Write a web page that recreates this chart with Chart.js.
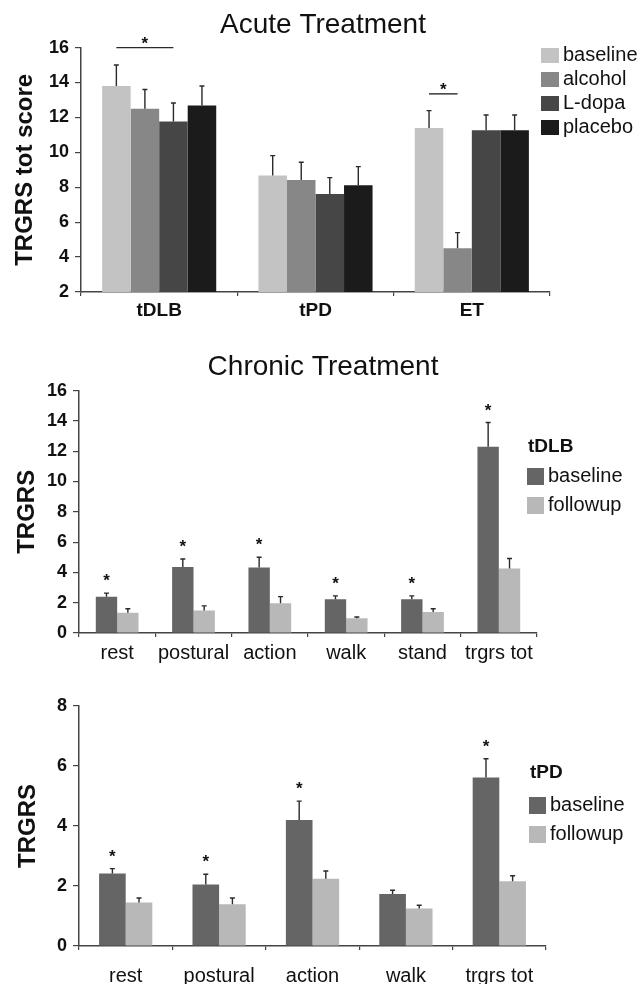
<!DOCTYPE html>
<html>
<head>
<meta charset="utf-8">
<script src="https://cdn.jsdelivr.net/npm/chart.js@4.4.1/dist/chart.umd.min.js"></script>
<style>
  body { margin: 0; background: #fff; width: 640px; height: 984px; overflow: hidden; position: relative; }
  .panel { position: absolute; left: 0; width: 640px; }
</style>
</head>
<body>
<div class="panel" style="top:0;height:320px"><canvas id="acute"></canvas></div>
<div class="panel" style="top:320px;height:345px"><canvas id="chronicDLB"></canvas></div>
<div class="panel" style="top:655px;height:329px"><canvas id="chronicPD"></canvas></div>
<script>
// acute treatment, TRGRS tot score (mean + SEM)
const acuteGroups = ['tDLB', 'tPD', 'ET'];
const acuteBaseline = [13.8, 8.67, 11.4];
const acuteBaselineErr = [1.2, 1.14, 0.99];
const acuteAlcohol = [12.5, 8.42, 4.5];
const acuteAlcoholErr = [1.1, 1.01, 0.9];
const acuteLdopa = [11.76, 7.62, 11.27];
const acuteLdopaErr = [1.07, 0.93, 0.87];
const acutePlacebo = [12.68, 8.11, 11.27];
const acutePlaceboErr = [1.12, 1.07, 0.87];
const acuteYTicks = [2, 4, 6, 8, 10, 12, 14, 16];
// significance brackets: group, from series, to series, height
const acuteBrackets = [[0, 0, 2, 16], [2, 0, 1, 13.35]];

// chronic treatment, tDLB
const dlbItems = ['rest', 'postural', 'action', 'walk', 'stand', 'trgrs tot'];
const dlbBaseline = [2.4, 4.35, 4.33, 2.23, 2.23, 12.3];
const dlbBaselineErr = [0.23, 0.53, 0.67, 0.22, 0.22, 1.59];
const dlbFollowup = [1.34, 1.48, 1.97, 0.97, 1.39, 4.26];
const dlbFollowupErr = [0.26, 0.31, 0.43, 0.09, 0.21, 0.66];
const dlbStars = [1, 1, 1, 1, 1, 1];
const dlbYTicks = [0, 2, 4, 6, 8, 10, 12, 14, 16];

// chronic treatment, tPD
const pdItems = ['rest', 'postural', 'action', 'walk', 'trgrs tot'];
const pdBaseline = [2.42, 2.05, 4.2, 1.73, 5.62];
const pdBaselineErr = [0.16, 0.34, 0.63, 0.13, 0.62];
const pdFollowup = [1.45, 1.39, 2.24, 1.25, 2.16];
const pdFollowupErr = [0.15, 0.21, 0.26, 0.11, 0.18];
const pdStars = [1, 1, 1, 0, 1];
const pdYTicks = [0, 2, 4, 6, 8];

const FONT = '"Liberation Sans", Arial, sans-serif';
Chart.defaults.font.family = FONT;
Chart.defaults.color = '#111';

// error whiskers, stars, brackets and the legend box
const marks = {
  id: 'marks',
  afterDatasetsDraw(chart, args, o) {
    const ctx = chart.ctx, y = chart.scales.y;
    ctx.save();
    ctx.strokeStyle = '#2a2a2a';
    ctx.lineWidth = 1.4;
    chart.data.datasets.forEach((ds, i) => {
      chart.getDatasetMeta(i).data.forEach((bar, j) => {
        const top = y.getPixelForValue(ds.data[j] + ds.err[j]);
        ctx.beginPath();
        ctx.moveTo(bar.x, bar.y);
        ctx.lineTo(bar.x, top);
        ctx.moveTo(bar.x - 2.5, top);
        ctx.lineTo(bar.x + 2.5, top);
        ctx.stroke();
      });
    });
    ctx.fillStyle = '#111';
    ctx.font = 'bold 17px ' + FONT;
    ctx.textAlign = 'center';
    ctx.textBaseline = 'alphabetic';
    (o.stars || []).forEach((s, j) => {
      if (!s) return;
      const ds = chart.data.datasets[0];
      const bar = chart.getDatasetMeta(0).data[j];
      const top = y.getPixelForValue(ds.data[j] + ds.err[j]);
      ctx.fillText('*', bar.x, top - 7);
    });
    (o.brackets || []).forEach(([g, a, b, v]) => {
      const x1 = chart.getDatasetMeta(a).data[g].x;
      const x2 = chart.getDatasetMeta(b).data[g].x;
      const py = y.getPixelForValue(v);
      ctx.beginPath();
      ctx.moveTo(x1, py);
      ctx.lineTo(x2, py);
      ctx.stroke();
      ctx.fillText('*', (x1 + x2) / 2, py + 1);
    });
    ctx.restore();
  },
  afterDraw(chart, args, o) {
    const L = o.legend;
    if (!L) return;
    const ctx = chart.ctx;
    ctx.save();
    ctx.textBaseline = 'middle';
    ctx.textAlign = 'left';
    let top = L.y;
    if (L.title) {
      ctx.fillStyle = '#111';
      ctx.font = 'bold 19px ' + FONT;
      ctx.fillText(L.title, L.x + 1, L.titleY);
    }
    chart.data.datasets.forEach((ds) => {
      ctx.fillStyle = ds.backgroundColor;
      ctx.fillRect(L.x, top, L.w, L.h);
      ctx.fillStyle = '#111';
      ctx.font = '20px ' + FONT;
      ctx.fillText(ds.label, L.x + L.w + 4, top + L.h / 2);
      top += L.gap;
    });
    ctx.restore();
  }
};

function makeChart(id, cfg) {
  return new Chart(document.getElementById(id), {
    type: 'bar',
    data: { labels: cfg.labels, datasets: cfg.datasets },
    options: {
      responsive: true, maintainAspectRatio: false, animation: false, events: [],
      layout: { padding: { top: cfg.padTop, right: 0, left: 6, bottom: 0 } },
      datasets: { bar: { categoryPercentage: cfg.catPct, barPercentage: 1, borderWidth: 0 } },
      plugins: {
        legend: { display: false },
        tooltip: { enabled: false },
        title: cfg.title ? {
          display: true, text: cfg.title, color: '#111',
          font: { size: 28, weight: 'normal' }, padding: cfg.titlePad,
        } : { display: false },
        marks: { stars: cfg.stars, brackets: cfg.brackets, legend: cfg.legend },
      },
      scales: {
        x: {
          grid: { offset: true, drawOnChartArea: false, tickLength: 4, color: '#444', lineWidth: 1.2 },
          border: { color: '#444', width: 1.5 },
          ticks: {
            font: { size: cfg.xFont, weight: cfg.xBold ? 'bold' : 'normal' }, color: '#111',
            padding: cfg.xPad, maxRotation: 0, minRotation: 0, autoSkip: false,
          },
          afterFit: (s) => { s.height = cfg.xHeight; },
        },
        y: {
          min: cfg.yTicks[0], max: cfg.yTicks[cfg.yTicks.length - 1],
          afterBuildTicks: (s) => { s.ticks = cfg.yTicks.map((v) => ({ value: v })); },
          grid: { drawOnChartArea: false, tickLength: 6, color: '#444', lineWidth: 1.2 },
          border: { color: '#444', width: 1.5 },
          ticks: { font: { size: 18, weight: 'bold' }, color: '#111', padding: 6 },
          title: { display: true, text: cfg.yTitle, color: '#111', font: { size: 24, weight: 'bold' }, padding: { top: cfg.yTitlePad, bottom: 0 } },
          afterFit: (s) => { s.width = cfg.yWidth; },
        },
        // empty right-hand gutter that holds the legend
        gutter: {
          type: 'linear', position: 'right', display: true,
          grid: { display: false }, border: { display: false }, ticks: { display: false },
          afterFit: (s) => { s.width = cfg.gutter; },
        },
      },
    },
    plugins: [marks],
  });
}

makeChart('acute', {
  labels: acuteGroups,
  datasets: [
    { label: 'baseline', data: acuteBaseline, err: acuteBaselineErr, backgroundColor: '#c3c3c3' },
    { label: 'alcohol', data: acuteAlcohol, err: acuteAlcoholErr, backgroundColor: '#878787' },
    { label: 'L-dopa', data: acuteLdopa, err: acuteLdopaErr, backgroundColor: '#464646' },
    { label: 'placebo', data: acutePlacebo, err: acutePlaceboErr, backgroundColor: '#1b1b1b' },
  ],
  title: 'Acute Treatment', titlePad: { top: 8, bottom: 6 },
  padTop: 0, gutter: 90, catPct: 0.73,
  xFont: 19, xBold: true, xPad: 3, xHeight: 28,
  yTicks: acuteYTicks, yTitle: 'TRGRS tot score', yTitlePad: 5, yWidth: 75,
  brackets: acuteBrackets,
  legend: { x: 541, y: 48, w: 18, h: 15, gap: 24 },
});

makeChart('chronicDLB', {
  labels: dlbItems,
  datasets: [
    { label: 'baseline', data: dlbBaseline, err: dlbBaselineErr, backgroundColor: '#656565' },
    { label: 'followup', data: dlbFollowup, err: dlbFollowupErr, backgroundColor: '#b8b8b8' },
  ],
  title: 'Chronic Treatment', titlePad: { top: 30, bottom: 7 },
  padTop: 0, gutter: 103, catPct: 0.56,
  xFont: 20, xBold: false, xPad: 4, xHeight: 32,
  yTicks: dlbYTicks, yTitle: 'TRGRS', yTitlePad: 7, yWidth: 73,
  stars: dlbStars,
  legend: { x: 527, y: 148, w: 17, h: 17, gap: 29, title: 'tDLB', titleY: 127 },
});

makeChart('chronicPD', {
  labels: pdItems,
  datasets: [
    { label: 'baseline', data: pdBaseline, err: pdBaselineErr, backgroundColor: '#656565' },
    { label: 'followup', data: pdFollowup, err: pdFollowupErr, backgroundColor: '#b8b8b8' },
  ],
  title: null,
  padTop: 51, gutter: 94, catPct: 0.57,
  xFont: 20, xBold: false, xPad: 14, xHeight: 38,
  yTicks: pdYTicks, yTitle: 'TRGRS', yTitlePad: 8, yWidth: 73,
  stars: pdStars,
  legend: { x: 529, y: 142, w: 17, h: 17, gap: 29, title: 'tPD', titleY: 118 },
});
</script>
</body>
</html>
